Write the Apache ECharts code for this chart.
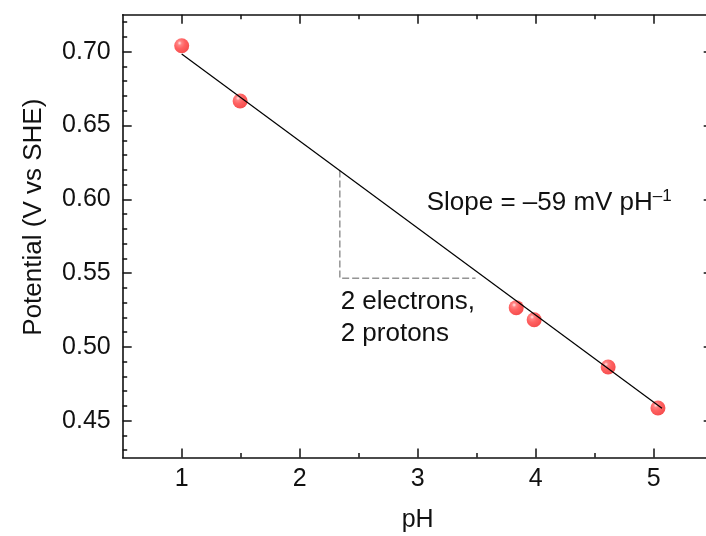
<!DOCTYPE html>
<html>
<head>
<meta charset="utf-8">
<script src="https://cdn.jsdelivr.net/npm/echarts@6/dist/echarts.min.js"></script>
<style>
  html, body { margin: 0; padding: 0; background: #fff; }
  #chart { width: 706px; height: 536px; }
</style>
</head>
<body>
<div id="chart"></div>
<script>
// Measured electrode potential (V vs SHE) at each pH
const phValues = [1.0, 1.495, 3.835, 3.987, 4.614, 5.036];
const potentials = [0.704, 0.6666, 0.5266, 0.5184, 0.4864, 0.4586];

// Linear fit: slope in V per pH unit, intercept at pH 0, drawn over this pH span
const fitSlope = -0.059;
const fitIntercept = 0.7575;
const fitRange = [1.0, 5.07];

// Right-angle guide under the fit line (pH span and lower potential)
const guideX = [2.34, 3.49];
const guideBottom = 0.5465;

// Axis ticks
const xTicks = [1, 2, 3, 4, 5];
const xMinorTicks = [1.5, 2.5, 3.5, 4.5];
const yTicks = [0.45, 0.50, 0.55, 0.60, 0.65, 0.70];
const yMinorTicks = [0.43, 0.44, 0.46, 0.47, 0.48, 0.49, 0.51, 0.52, 0.53, 0.54,
  0.56, 0.57, 0.58, 0.59, 0.61, 0.62, 0.63, 0.64, 0.66, 0.67, 0.68, 0.69, 0.71, 0.72];

// Text notes anchored at [pH, potential] (left edge, vertical middle)
const noteAnchors = [[3.076, 0.5973], [2.347, 0.5196]];
const noteTexts = ['Slope = \u201359 mV pH{sup|\u20131}', '2 electrons,\n2 protons'];
const noteLeading = [30, 32];

const FONT = '"Liberation Sans", Arial, sans-serif';
const INK = '#111111';
const fit = x => fitIntercept + fitSlope * x;

function makeAxis(dim, position, opts) {
  const base = dim === 'x'
    ? { min: 0.5, max: 5.5 }
    : { min: 0.425, max: 0.725 };
  return Object.assign({
    type: 'value',
    position: position,
    min: base.min,
    max: base.max,
    splitLine: { show: false },
    axisLine: { show: false, onZero: false },
    axisTick: { show: false },
    axisLabel: { show: false }
  }, opts);
}

function framed(ticks, len) {
  return {
    axisLine: { show: true, onZero: false, lineStyle: { color: INK, width: 1.6 } },
    axisTick: { show: true, inside: true, length: len, customValues: ticks,
      lineStyle: { color: INK, width: 1.5 } }
  };
}
function ticksOnly(ticks, len) {
  return {
    axisTick: { show: true, inside: true, length: len, customValues: ticks,
      lineStyle: { color: INK, width: 1.5 } }
  };
}

const xAxes = [
  makeAxis('x', 'bottom', Object.assign(framed(xTicks, 9), {
    name: 'pH',
    nameLocation: 'middle',
    nameGap: 50,
    nameTextStyle: { fontFamily: FONT, fontSize: 25, color: INK },
    axisLabel: { show: true, customValues: xTicks, margin: 9,
      fontFamily: FONT, fontSize: 25, color: INK }
  })),
  makeAxis('x', 'bottom', ticksOnly(xMinorTicks, 4.5)),
  makeAxis('x', 'top', framed(xTicks, 9)),
  makeAxis('x', 'top', ticksOnly(xMinorTicks, 4.5))
];

const yAxes = [
  makeAxis('y', 'left', Object.assign(framed(yTicks, 9), {
    name: 'Potential (V vs SHE)',
    nameLocation: 'middle',
    nameGap: 76,
    nameTextStyle: { fontFamily: FONT, fontSize: 26, color: INK, padding: [0, 0, 0, 38] },
    axisLabel: { show: true, customValues: yTicks, margin: 12,
      fontFamily: FONT, fontSize: 25, color: INK,
      formatter: v => v.toFixed(2) }
  })),
  makeAxis('y', 'left', ticksOnly(yMinorTicks, 4.5)),
  makeAxis('y', 'right', framed(yTicks, 9)),
  makeAxis('y', 'right', ticksOnly(yMinorTicks, 4.5))
];

const sphere = {
  type: 'radial', x: 0.36, y: 0.32, r: 0.72,
  colorStops: [
    { offset: 0, color: '#ffe0e0' },
    { offset: 0.2, color: '#ff6464' },
    { offset: 0.5, color: '#ff3a3a' },
    { offset: 1, color: '#f22020' }
  ]
};

const chart = echarts.init(document.getElementById('chart'), null, { renderer: 'canvas' });
chart.setOption({
  animation: false,
  backgroundColor: '#ffffff',
  grid: { left: 122.7, top: 14.8, right: -6.7, bottom: 78.4, containLabel: false, outerBoundsMode: 'none' },
  xAxis: xAxes,
  yAxis: yAxes,
  series: [
    {
      name: 'guide',
      type: 'line',
      xAxisIndex: 0, yAxisIndex: 0,
      data: [[guideX[0], fit(guideX[0])], [guideX[0], guideBottom], [guideX[1], guideBottom]],
      symbol: 'none',
      lineStyle: { color: '#949494', width: 1.5, type: [7, 3] },
      silent: true,
      z: 1
    },
    {
      name: 'measured',
      type: 'scatter',
      xAxisIndex: 0, yAxisIndex: 0,
      data: phValues.map((x, i) => [x, potentials[i]]),
      symbolSize: 15,
      itemStyle: { color: sphere },
      z: 2
    },
    {
      name: 'fit',
      type: 'line',
      xAxisIndex: 0, yAxisIndex: 0,
      data: fitRange.map(x => [x, fit(x)]),
      symbol: 'none',
      lineStyle: { color: '#000000', width: 1.2 },
      silent: true,
      z: 3
    }
  ]
});

// Notes placed at data coordinates once the axes are laid out
chart.setOption({
  graphic: noteAnchors.map((pt, i) => {
    const px = chart.convertToPixel({ xAxisIndex: 0, yAxisIndex: 0 }, pt);
    return {
      type: 'text',
      x: px[0],
      y: px[1],
      z: 10,
      silent: true,
      style: {
        text: noteTexts[i],
        fontFamily: FONT,
        fontSize: 26,
        fill: INK,
        align: 'left',
        verticalAlign: 'middle',
        lineHeight: noteLeading[i],
        rich: {
          sup: { fontFamily: FONT, fontSize: 17, lineHeight: 17, fill: INK, verticalAlign: 'top' }
        }
      }
    };
  })
});
</script>
</body>
</html>
